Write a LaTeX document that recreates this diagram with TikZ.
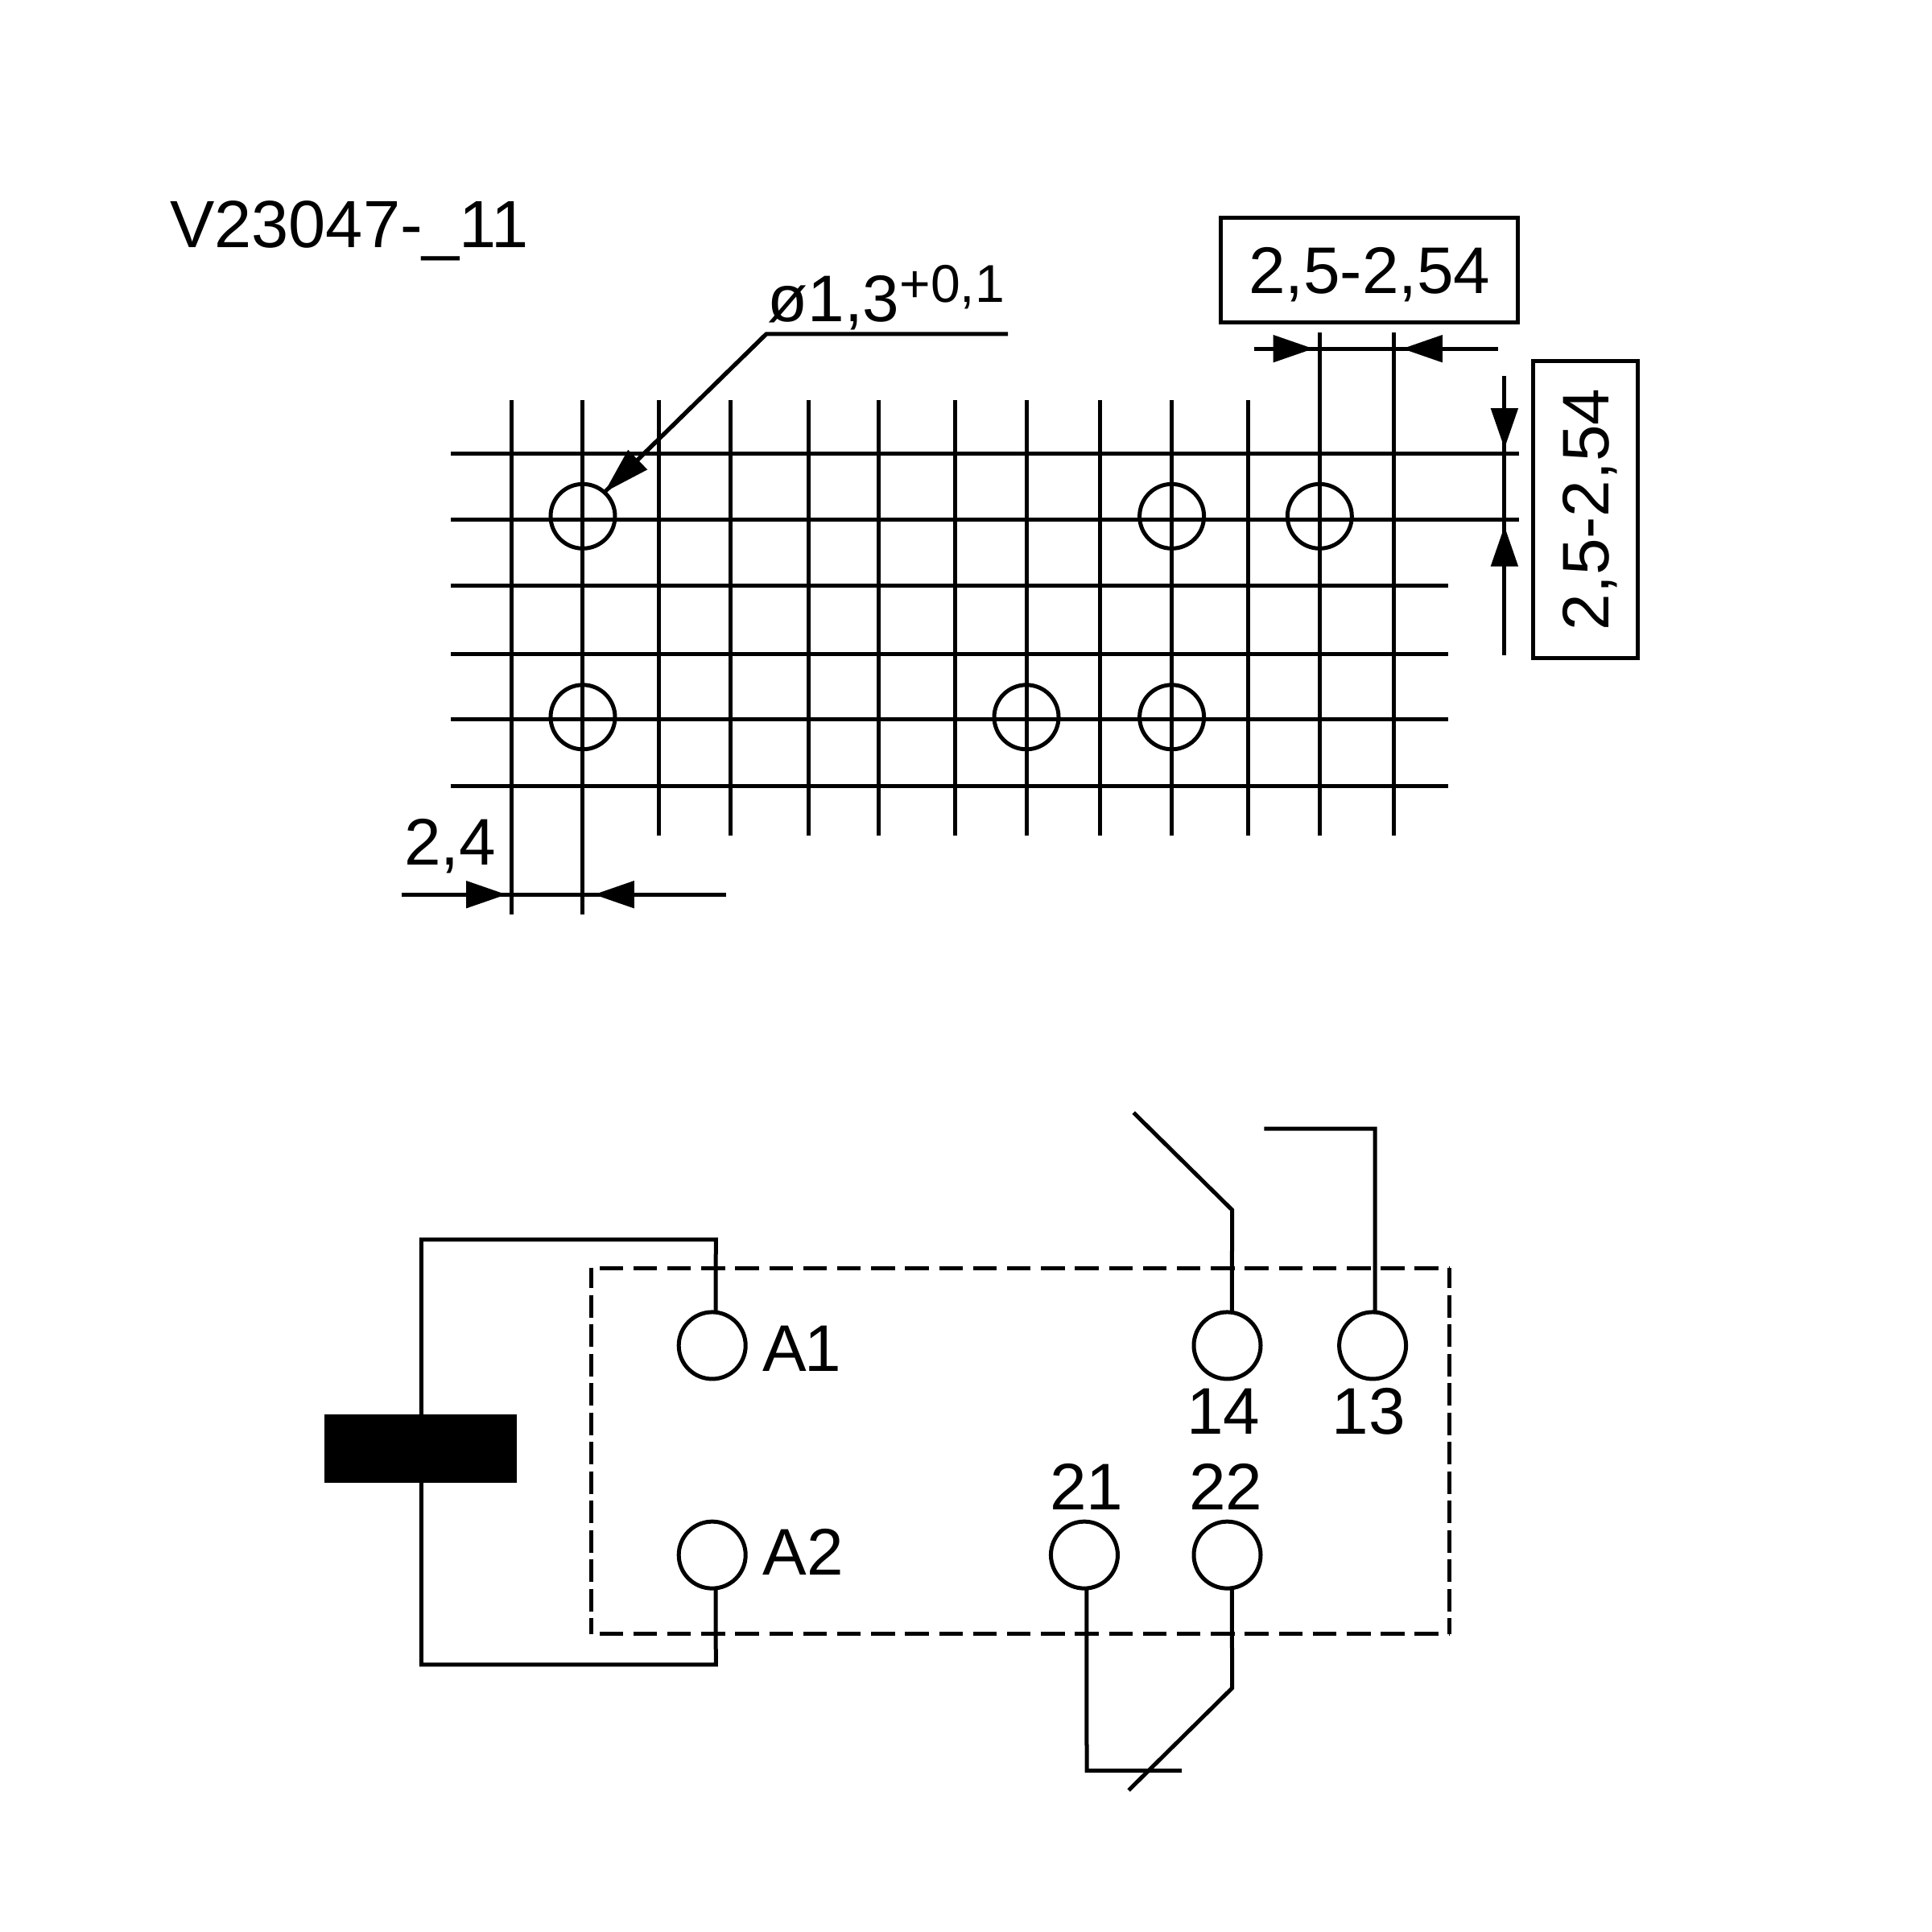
\documentclass[tikz,border=0pt]{standalone}
\usepackage{fontspec}
\setmainfont{Liberation Sans}
\usetikzlibrary{arrows.meta}
\tikzset{
  ln/.style={line width=0.05cm,black},
  dimtip/.style={ln,-{Triangle[length=0.5cm,width=0.33cm]}},
  hole/.style={circle,draw,ln,inner sep=0pt,outer sep=0pt,minimum size=0.8cm},
  terminal/.style={circle,draw,ln,inner sep=0pt,outer sep=0pt,minimum size=0.83cm},
  lbl/.style={inner sep=0pt,outer sep=0pt,anchor=base west,font=\fontsize{23.3pt}{26pt}\selectfont},
  dimbox/.style={draw,ln,inner sep=0pt,outer sep=0pt,font=\fontsize{23.3pt}{26pt}\selectfont,text height=16.5pt,text depth=0pt},
  dashh/.style={ln,dash pattern=on 0.295cm off 0.127cm,dash phase=0.324cm},
  dashv/.style={ln,dash pattern=on 0.28cm off 0.085cm,dash phase=0.03cm}
}
\begin{document}
\begin{tikzpicture}[x=0.015306cm,y=-0.015306cm]
\useasboundingbox[fill=white] (0,0) rectangle (1568,1568);
% grid
\foreach \gx in {415,473,535,593,656,713,775,833,893,951,1013}{
  \pgfmathsetmacro{\gend}{(\gx<500)?742:678}
  \draw[ln] (\gx,325) -- (\gx,\gend);
}
\foreach \gx in {1071,1131}{\draw[ln] (\gx,270) -- (\gx,678);}
\foreach \gy in {368,422}{\draw[ln] (366,\gy) -- (1233,\gy);}
\foreach \gy in {475,531,584,638}{\draw[ln] (366,\gy) -- (1175,\gy);}
% holes
\node[hole] (h1) at (473,419) {};
\node[hole] (h2) at (951,419) {};
\node[hole] (h3) at (1071,419) {};
\node[hole] (h4) at (473,582) {};
\node[hole] (h5) at (833,582) {};
\node[hole] (h6) at (951,582) {};
% title and dimensions
\node[lbl,font=\fontsize{23.6pt}{26pt}\selectfont] (title) at (138,201) {V23047-\_11};
\node[lbl] (dia) at (623,261) {ø1,3\raisebox{0.24cm}{\fontsize{18.8pt}{20pt}\selectfont +0,1}};
\node[lbl] (d24) at (328,702) {2,4};
\node[dimbox,minimum width=3.69cm,minimum height=1.3cm] (bh) at (1111.5,219.5) {2,5-2,54};
\node[dimbox,rotate=90,minimum width=3.69cm,minimum height=1.3cm] (bv) at (1286.5,413.5) {2,5-2,54};
% leader
\coordinate (lead0) at (818,271);
\coordinate (lead1) at (622,271);
\draw[ln] (lead0) -- (lead1) -- (h1.48);
\draw[dimtip,-{Triangle[length=0.58cm,width=0.33cm]}] (lead1) -- (h1.48);
% dimension lines
\draw[ln] (326,726) -- (589,726);
\draw[ln] (415,726) -- (415,742);
\draw[dimtip] (380,726) -- (411,726);
\draw[dimtip] (513,726) -- (482,726);
\draw[ln] (1018,283) -- (1216,283);
\draw[dimtip] (1033,283) -- (1066,283);
\draw[dimtip] (1171,283) -- (1138,283);
\draw[ln] (1221,305) -- (1221,532);
\draw[dimtip] (1221,331) -- (1221,364);
\draw[dimtip] (1221,460) -- (1221,427);
% housing
\draw[dashh] (480,1029) -- (1176,1029);
\draw[dashh] (480,1326) -- (1176,1326);
\draw[dashv] (480,1029) -- (480,1326);
\draw[dashv] (1176,1029) -- (1176,1326);
% terminals
\node[terminal] (A1) at (578,1092) {};
\node[terminal] (A2) at (578,1262) {};
\node[terminal] (T14) at (996,1092) {};
\node[terminal] (T13) at (1114,1092) {};
\node[terminal] (T21) at (880,1262) {};
\node[terminal] (T22) at (996,1262) {};
\node[lbl] (lA1) at (619,1113) {A\kern-0.03cm 1};
\node[lbl] (lA2) at (619,1278) {A2};
\node[lbl] (l14) at (963,1164) {14};
\node[lbl] (l13) at (1081,1164) {13};
\node[lbl] (l21) at (852,1225) {21};
\node[lbl] (l22) at (965,1225) {22};
% coil
\node[fill=black,inner sep=0pt,outer sep=0pt,minimum width=2.39cm,minimum height=0.85cm] (coil) at (341.5,1175.5) {};
\draw[ln] (A1.84) -- (581,1006) -- (342,1006) -- (342,1148);
\draw[ln] (342,1203) -- (342,1351) -- (581,1351) -- (A2.-84);
% contacts
\coordinate (c14a) at (1000,982);
\coordinate (c14b) at (920,903);
\coordinate (c13a) at (1116,916);
\coordinate (c13b) at (1026,916);
\coordinate (c21a) at (882,1437);
\coordinate (c21b) at (959,1437);
\coordinate (c22a) at (1000,1370);
\coordinate (c22b) at (916,1453);
\draw[ln] (T14.82) -- (c14a) -- (c14b);
\draw[ln] (T13.86) -- (c13a) -- (c13b);
\draw[ln] (T21.-86) -- (c21a) -- (c21b);
\draw[ln] (T22.-82) -- (c22a) -- (c22b);
\end{tikzpicture}
\end{document}
